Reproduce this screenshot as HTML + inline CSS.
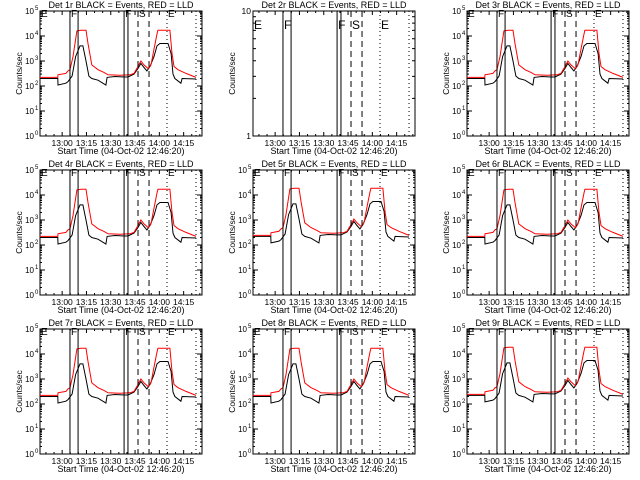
<!DOCTYPE html>
<html><head><meta charset="utf-8"><style>
html,body{margin:0;padding:0;background:#fff;}
svg{display:block;font-family:"Liberation Sans",sans-serif;}
</style></head><body>
<svg id="chart" width="640" height="480" viewBox="0 0 640 480" xmlns="http://www.w3.org/2000/svg">
<rect x="0" y="0" width="640" height="480" fill="#fff"/>
</svg>
<script>
// ---- data ----
const detectorNames = ["1r","2r","3r","4r","5r","6r","7r","8r","9r"];
const detectorScale = [1, 0, 1, 1, 1.1, 1, 1, 1, 1.1];
const blackTimes = [0,11,11.1,16,17.3,19.8,22,24.7,26.5,28.4,30.2,32,35.8,40.7,41.4,46.3,51.9,54.3,58,60.5,62.3,64.2,66,67.9,70.4,72.2,74,79,80.9,82.1,83.3,87,87.7,96.3];
const blackValues = [200,200,110,130,150,250,1500,4000,4000,1000,250,200,170,110,220,240,230,230,300,500,800,550,400,600,1500,4000,5000,5000,2000,300,200,130,200,190];
const redTimes = [0,11,11.1,16,17.3,18.5,20.4,22.8,25.3,28.4,29.6,32,35.8,39.5,42,49.4,55.6,58,60.5,62.3,64.2,66.7,68.5,70.4,72.2,72.8,80.2,81.5,82.7,85.2,90.1,96.3];
const redValues = [220,220,280,320,400,450,1500,16000,17000,17000,5000,700,450,350,280,270,280,320,600,1000,700,500,700,3000,12000,17000,17000,2000,600,450,320,220];
const xTickMinutes = [13.67,28.67,43.67,58.67,73.67,88.67];
const xTickLabels = ["13:00","13:15","13:30","13:45","14:00","14:15"];
const yDecades = [0,1,2,3,4,5];
const markerMinutes = [18.5,23.5,51.9,54.3,60.5,67.3,78.4,96.3];
const markerStyles = ["solid","solid","solid","solid","dash","dash","dot","dot"];
const markerLetters = [["E",0],["F",18.5],["F",51.9],["S",60.5],["E",78.4]];

// ---- layout ----
const NS="http://www.w3.org/2000/svg";
const svg=document.getElementById('chart');
const colOff=[0,213,427], rowOff=[0,159,318];
const PL=40, PR=202, PT=11, PB=136, XMAX=100;
function mk(tag,attrs,parent){const e=document.createElementNS(NS,tag);for(const k in attrs)e.setAttribute(k,attrs[k]);(parent||svg).appendChild(e);return e;}

detectorNames.forEach((dn,i)=>{
  const ox=colOff[i%3], oy=rowOff[Math.floor(i/3)];
  const g=mk('g',{transform:`translate(${ox},${oy})`});
  
  
  const empty=detectorScale[i]===0;
  const xs=m=>PL+(m/XMAX)*(PR-PL);
  const ys=empty? v=>PB-Math.log10(v)*(PB-PT) : v=>PB-Math.log10(v)/5*(PB-PT);
  const t=mk('text',{x:(PL+PR)/2,y:8,'font-size':9,'text-anchor':'middle',fill:'#000'},g);
  t.textContent=`Det ${dn} BLACK = Events, RED = LLD`;
  
  
  const fr=mk('rect',{x:PL,y:PT,width:PR-PL,height:PB-PT,fill:'none',stroke:'#000','stroke-width':1},g);
  
  
  for(let m=3.67;m<XMAX;m+=5){
    const major=xTickMinutes.some(v=>Math.abs(v-m)<0.1);
    const L=major?4:2, x=xs(m);
    mk('line',{x1:x,y1:PB,x2:x,y2:PB-L,stroke:'#000'},g);
    mk('line',{x1:x,y1:PT,x2:x,y2:PT+L,stroke:'#000'},g);
  }
  xTickMinutes.forEach((m,k)=>{
    const tl=mk('text',{x:xs(m),y:146,'font-size':8.5,'text-anchor':'middle',fill:'#000'},g);
    tl.textContent=xTickLabels[k];
    
    
  });
  const xt=mk('text',{x:(PL+PR)/2,y:154,'font-size':9,'text-anchor':'middle',fill:'#000'},g);
  xt.textContent='Start Time (04-Oct-02 12:46:20)';
  
  
  const yt=mk('text',{x:0,y:0,'font-size':8.5,'text-anchor':'middle',fill:'#000',transform:`translate(22,${(PT+PB)/2}) rotate(-90)`},g);
  yt.textContent='Counts/sec';
  
  
  if(empty){
    for(let v=1;v<=10;v++){const y=ys(v),L=(v===1||v===10)?5:3;
      mk('line',{x1:PL,y1:y,x2:PL+L,y2:y,stroke:'#000'},g);mk('line',{x1:PR,y1:y,x2:PR-L,y2:y,stroke:'#000'},g);}
    [[1,"1"],[10,"10"]].forEach(([v,s])=>{const tl=mk('text',{x:PL-2,y:ys(v)+3,'font-size':8.5,'text-anchor':'end',fill:'#000'},g);tl.textContent=s;
      
      });
  } else {
    yDecades.forEach(d=>{
      const y=ys(Math.pow(10,d));
      mk('line',{x1:PL,y1:y,x2:PL+5,y2:y,stroke:'#000'},g);mk('line',{x1:PR,y1:y,x2:PR-5,y2:y,stroke:'#000'},g);
      if(d<5)for(let k=2;k<10;k++){const yy=ys(k*Math.pow(10,d));mk('line',{x1:PL,y1:yy,x2:PL+2,y2:yy,stroke:'#000'},g);mk('line',{x1:PR,y1:yy,x2:PR-2,y2:yy,stroke:'#000'},g);}
      const tl=mk('text',{x:PL-6,y:y+3,'font-size':8,'text-anchor':'end',fill:'#000'},g);
      tl.textContent='10';
      
      
      const sp=mk('text',{x:PL-5,y:y-1,'font-size':6,fill:'#000'},g);sp.textContent=String(d);
    });
    const mkLine=(ts,vs,col,name)=>{
      const pts=ts.map((m,k)=>xs(m).toFixed(1)+','+ys(vs[k]*detectorScale[i]).toFixed(1)).join(' ');
      const pl=mk('polyline',{points:pts,fill:'none',stroke:col,'stroke-width':1},g);
      
      
    };
    mkLine(blackTimes,blackValues,'#000','events-series');
    mkLine(redTimes,redValues,'#f00','lld-series');
  }
  markerMinutes.forEach((m,k)=>{
    const st=markerStyles[k];
    const ln=mk('line',{x1:xs(m),y1:PT,x2:xs(m),y2:PB,stroke:'#000','stroke-width':1,'stroke-dasharray':st==='dash'?'6,4':st==='dot'?'1,3':'none'},g);
    
    
  });
  markerLetters.forEach(([s,m])=>{
    const lt=mk('text',{x:xs(m)+1,y:empty?29:17,'font-size':empty?12:10,fill:'#000'},g);
    lt.textContent=s;
    
    
  });
});
</script>
</body></html>
